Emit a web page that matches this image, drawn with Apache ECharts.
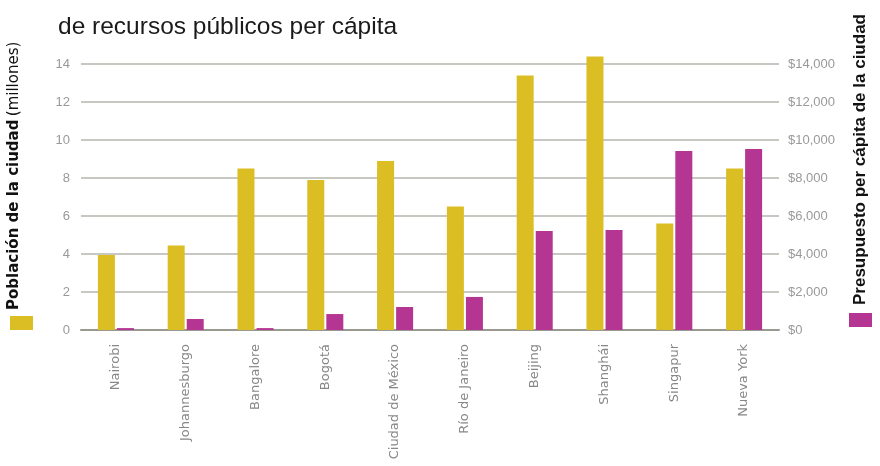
<!DOCTYPE html>
<html>
<head>
<meta charset="utf-8">
<script src="https://cdn.jsdelivr.net/npm/echarts@6/dist/echarts.min.js"></script>
<style>
html,body{margin:0;padding:0;background:#fff;}
#c{width:880px;height:466px;}
</style>
</head>
<body>
<div id="c"></div>
<script>
const cities = ['Nairobi','Johannesburgo','Bangalore','Bogotá','Ciudad de México','Río de Janeiro','Beijing','Shanghái','Singapur','Nueva York'];
const population = [3.95, 4.45, 8.5, 7.9, 8.9, 6.5, 13.4, 14.4, 5.6, 8.5];
const budget = [100, 580, 100, 840, 1210, 1740, 5210, 5260, 9420, 9530];
const popTicks = {min: 0, max: 14, interval: 2};
const budgetTicks = {min: 0, max: 14000, interval: 2000};

const FONT = '"Liberation Sans", Arial, sans-serif';
const WIDE = '"DejaVu Sans", sans-serif';
const YEL = '#dbbe24';
const MAG = '#b43592';
const chart = echarts.init(document.getElementById('c'));
chart.setOption({
  animation: false,
  textStyle: {fontFamily: FONT},
  title: {
    text: 'de recursos públicos per cápita',
    left: 53, top: 10,
    textStyle: {fontFamily: FONT, fontSize: 24.5, fontWeight: 'normal', color: '#1a1a1a'}
  },
  legend: [
    {data: ['Población'], left: 10, top: 316, icon: 'rect', itemWidth: 23, itemHeight: 14, padding: 0, formatter: () => '', selectedMode: false},
    {data: ['Presupuesto'], left: 849, top: 313, icon: 'rect', itemWidth: 23, itemHeight: 14, padding: 0, formatter: () => '', selectedMode: false}
  ],
  grid: {left: 81, right: 101, top: 64, bottom: 136},
  xAxis: {
    type: 'category',
    data: cities,
    axisLine: {lineStyle: {color: '#999990', width: 2}},
    axisTick: {show: false},
    axisLabel: {rotate: 90, margin: 14, color: '#888', fontSize: 13, fontFamily: WIDE}
  },
  yAxis: [
    {
      type: 'value', min: popTicks.min, max: popTicks.max, interval: popTicks.interval,
      axisLine: {show: false}, axisTick: {show: false},
      axisLabel: {color: '#999', fontSize: 13, margin: 11, fontFamily: FONT},
      splitLine: {lineStyle: {color: '#c8c8c3', width: 2}}
    },
    {
      type: 'value', min: budgetTicks.min, max: budgetTicks.max, interval: budgetTicks.interval,
      axisLine: {show: false}, axisTick: {show: false},
      axisLabel: {color: '#999', fontSize: 13, margin: 9, fontFamily: FONT,
        formatter: v => '$' + v.toLocaleString('en-US')},
      splitLine: {show: false}
    }
  ],
  series: [
    {name: 'Población', type: 'bar', data: population, yAxisIndex: 0, barWidth: 17, barGap: '12%', clip: false,
      itemStyle: {color: YEL}},
    {name: 'Presupuesto', type: 'bar', data: budget, yAxisIndex: 1, barWidth: 17, clip: false,
      itemStyle: {color: MAG}}
  ],
  graphic: [
    {type: 'text', x: 14, y: 310, rotation: Math.PI / 2,
      style: {text: '{b|Población de la ciudad} {n|(millones)}', textVerticalAlign: 'middle', align: 'left',
        rich: {b: {fontFamily: WIDE, fontSize: 15, fontWeight: 'bold', fill: '#111'},
               n: {fontFamily: WIDE, fontSize: 15, fontWeight: 'normal', fill: '#111'}}}},
    {type: 'text', x: 860, y: 305, rotation: Math.PI / 2,
      style: {text: 'Presupuesto per cápita de la ciudad', textVerticalAlign: 'middle', align: 'left',
        fontFamily: FONT, fontSize: 17, fontWeight: 'bold', fill: '#111'}}
  ]
});
</script>
</body>
</html>
